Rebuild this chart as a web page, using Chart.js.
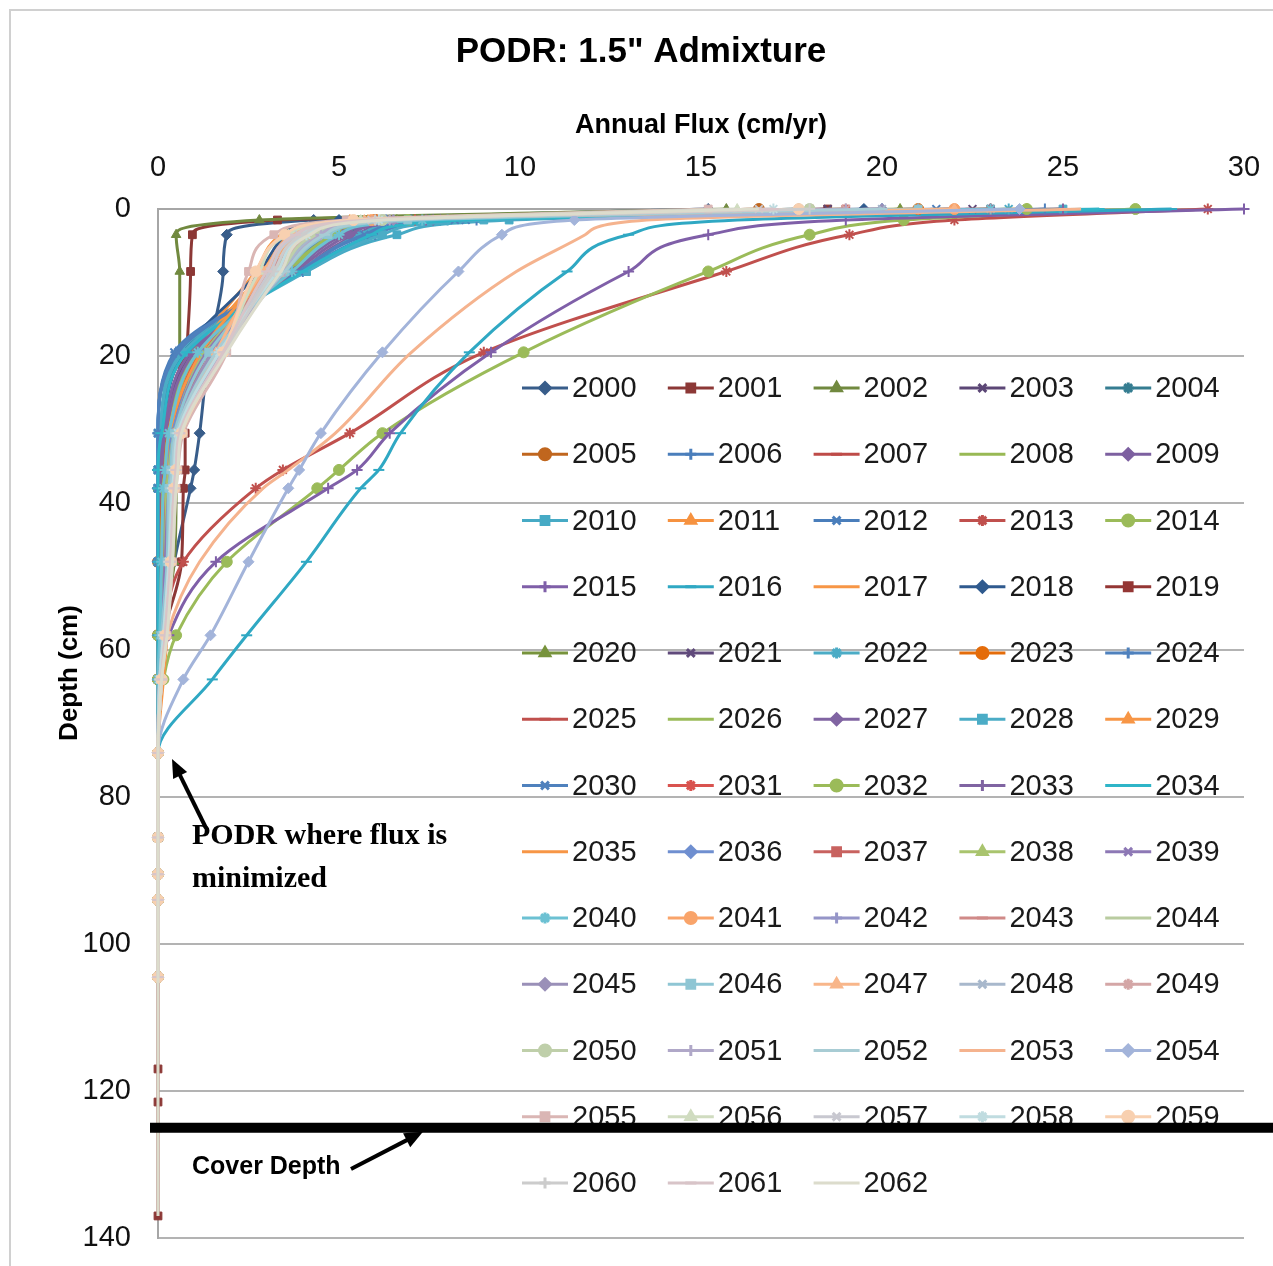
<!DOCTYPE html>
<html>
<head>
<meta charset="utf-8">
<script src="https://cdn.jsdelivr.net/npm/chart.js@4.4.0/dist/chart.umd.min.js"></script>
<style>
  html, body { margin: 0; padding: 0; background: #fff; }
  canvas { display: block; }
</style>
</head>
<body>
<canvas id="chart" width="1273" height="1266"></canvas>
<script>
// depth nodes (cm) shared by every year
const depths = [0, 1.5, 3.5, 8.5, 19.5, 30.5, 35.5, 38, 48, 58, 64, 74, 85.5, 90.5, 94, 104.5, 117, 121.5, 125, 137];

const years = [
  2000, 2001, 2002, 2003, 2004, 2005, 2006, 2007, 2008, 2009,
  2010, 2011, 2012, 2013, 2014, 2015, 2016, 2017, 2018, 2019,
  2020, 2021, 2022, 2023, 2024, 2025, 2026, 2027, 2028, 2029,
  2030, 2031, 2032, 2033, 2034, 2035, 2036, 2037, 2038, 2039,
  2040, 2041, 2042, 2043, 2044, 2045, 2046, 2047, 2048, 2049,
  2050, 2051, 2052, 2053, 2054, 2055, 2056, 2057, 2058, 2059,
  2060, 2061, 2062
];

// annual flux (cm/yr) at each depth node, one row per year
const flux = [
  [15.2, 4.3, 1.9, 1.8, 1.4, 1.15, 1.0, 0.9, 0.45, 0.15, 0.05, 0, 0, 0, 0, 0],
  [18.5, 3.3, 0.95, 0.9, 0.8, 0.75, 0.75, 0.7, 0.65, 0.15, 0.05, 0, 0, 0, 0, 0, 0, 0, 0, 0],
  [15.7, 2.8, 0.5, 0.6, 0.6, 0.55, 0.5, 0.5, 0.45, 0.1, 0.05, 0, 0, 0, 0, 0],
  [18.5, 6.5, 4.7, 3.4, 0.9, 0.15, 0.05, 0, 0, 0, 0, 0, 0, 0, 0, 0],
  [17.7, 7.5, 5.2, 3.8, 0.7, 0.05, 0, 0, 0, 0, 0, 0, 0, 0, 0, 0],
  [16.6, 6.0, 4.2, 3.2, 1.0, 0.2, 0.1, 0.05, 0, 0, 0, 0, 0, 0, 0, 0],
  [20.0, 7.0, 4.8, 3.6, 0.5, 0, 0, 0, 0, 0, 0, 0, 0, 0, 0, 0],
  [21.0, 6.8, 4.9, 3.7, 1.1, 0.45, 0.35, 0.3, 0.15, 0.05, 0, 0, 0, 0, 0, 0],
  [19.0, 6.2, 4.5, 3.5, 0.9, 0.3, 0.2, 0.15, 0.1, 0.05, 0, 0, 0, 0, 0, 0],
  [22.0, 7.8, 5.5, 3.9, 0.8, 0.1, 0.05, 0, 0, 0, 0, 0, 0, 0, 0, 0],
  [23.0, 9.7, 6.6, 4.1, 0.6, 0, 0, 0, 0, 0, 0, 0, 0, 0, 0, 0],
  [24.0, 5.3, 3.6, 2.9, 1.1, 0.3, 0.25, 0.2, 0.2, 0.15, 0.1, 0, 0, 0, 0, 0],
  [21.5, 8.5, 5.8, 4.0, 0.45, 0, 0, 0, 0, 0, 0, 0, 0, 0, 0, 0],
  [29.0, 22.0, 19.1, 15.7, 9.0, 5.3, 3.45, 2.7, 0.7, 0.15, 0.05, 0, 0, 0, 0, 0],
  [27.0, 20.6, 18.0, 15.2, 10.1, 6.2, 5.0, 4.4, 1.9, 0.5, 0.15, 0, 0, 0, 0, 0],
  [30.0, 19.0, 15.2, 13.0, 9.2, 6.4, 5.5, 4.7, 1.6, 0.3, 0.1, 0, 0, 0, 0, 0],
  [28.0, 16.0, 13.0, 11.3, 8.6, 6.7, 6.1, 5.6, 4.1, 2.45, 1.5, 0, 0, 0, 0, 0],
  [25.0, 5.6, 3.4, 2.7, 1.0, 0.35, 0.3, 0.3, 0.3, 0.25, 0.15, 0, 0, 0, 0, 0],
  [19.5, 5.0, 3.5, 2.8, 0.7, 0.1, 0, 0, 0, 0, 0, 0, 0, 0, 0, 0],
  [18.0, 6.4, 4.4, 3.3, 0.85, 0.2, 0.1, 0.05, 0, 0, 0, 0, 0, 0, 0, 0],
  [20.5, 6.6, 4.6, 3.4, 0.9, 0.15, 0.05, 0, 0, 0, 0, 0, 0, 0, 0, 0],
  [22.5, 7.2, 5.0, 3.6, 0.95, 0.2, 0.1, 0, 0, 0, 0, 0, 0, 0, 0, 0],
  [23.5, 8.0, 5.6, 3.9, 0.6, 0.05, 0, 0, 0, 0, 0, 0, 0, 0, 0, 0],
  [21.0, 6.0, 4.0, 3.1, 1.0, 0.25, 0.15, 0.1, 0.05, 0, 0, 0, 0, 0, 0, 0],
  [24.5, 8.8, 6.0, 4.0, 0.5, 0, 0, 0, 0, 0, 0, 0, 0, 0, 0, 0],
  [20.0, 6.5, 4.5, 3.4, 1.2, 0.4, 0.3, 0.25, 0.2, 0.1, 0.05, 0, 0, 0, 0, 0],
  [22.0, 7.0, 4.9, 3.6, 1.0, 0.3, 0.2, 0.15, 0.1, 0, 0, 0, 0, 0, 0, 0],
  [23.0, 7.6, 5.3, 3.8, 0.9, 0.15, 0.05, 0, 0, 0, 0, 0, 0, 0, 0, 0],
  [25.0, 9.0, 6.2, 4.1, 0.7, 0.05, 0, 0, 0, 0, 0, 0, 0, 0, 0, 0],
  [24.0, 5.8, 3.7, 2.9, 1.1, 0.3, 0.25, 0.2, 0.2, 0.15, 0.05, 0, 0, 0, 0, 0],
  [22.0, 8.2, 5.7, 3.9, 0.55, 0, 0, 0, 0, 0, 0, 0, 0, 0, 0, 0],
  [23.0, 7.1, 5.0, 3.7, 1.2, 0.4, 0.3, 0.25, 0.15, 0.05, 0, 0, 0, 0, 0, 0],
  [24.0, 6.9, 4.8, 3.5, 1.1, 0.3, 0.2, 0.15, 0.1, 0, 0, 0, 0, 0, 0, 0],
  [25.0, 7.4, 5.1, 3.7, 1.0, 0.2, 0.1, 0.05, 0, 0, 0, 0, 0, 0, 0, 0],
  [26.0, 8.4, 5.9, 4.0, 0.8, 0.1, 0, 0, 0, 0, 0, 0, 0, 0, 0, 0],
  [23.0, 6.1, 3.9, 3.0, 1.2, 0.35, 0.3, 0.25, 0.25, 0.2, 0.1, 0, 0, 0, 0, 0],
  [20.0, 6.3, 4.3, 3.3, 1.3, 0.4, 0.3, 0.25, 0.2, 0.1, 0.05, 0, 0, 0, 0, 0],
  [19.0, 6.0, 4.1, 3.2, 1.4, 0.5, 0.35, 0.3, 0.25, 0.1, 0.05, 0, 0, 0, 0, 0],
  [21.0, 6.4, 4.4, 3.4, 1.3, 0.45, 0.3, 0.25, 0.2, 0.1, 0.05, 0, 0, 0, 0, 0],
  [22.0, 6.7, 4.6, 3.5, 1.35, 0.45, 0.35, 0.3, 0.2, 0.1, 0.05, 0, 0, 0, 0, 0],
  [23.0, 7.3, 5.0, 3.7, 1.1, 0.3, 0.2, 0.15, 0.1, 0.05, 0, 0, 0, 0, 0, 0],
  [22.0, 5.9, 3.9, 3.0, 1.5, 0.5, 0.4, 0.35, 0.3, 0.2, 0.1, 0, 0, 0, 0, 0],
  [21.0, 6.2, 4.3, 3.3, 1.5, 0.55, 0.4, 0.35, 0.3, 0.15, 0.05, 0, 0, 0, 0, 0],
  [20.0, 5.8, 4.0, 3.1, 1.6, 0.6, 0.45, 0.4, 0.3, 0.15, 0.05, 0, 0, 0, 0, 0],
  [19.0, 6.1, 4.2, 3.2, 1.6, 0.55, 0.45, 0.4, 0.3, 0.15, 0.05, 0, 0, 0, 0, 0],
  [20.0, 6.5, 4.5, 3.4, 1.5, 0.5, 0.4, 0.35, 0.3, 0.15, 0.05, 0, 0, 0, 0, 0],
  [21.0, 6.9, 4.7, 3.5, 1.4, 0.45, 0.35, 0.3, 0.25, 0.1, 0.05, 0, 0, 0, 0, 0],
  [22.0, 5.7, 3.8, 2.9, 1.6, 0.6, 0.5, 0.45, 0.35, 0.2, 0.1, 0, 0, 0, 0, 0],
  [20.0, 6.3, 4.4, 3.4, 1.7, 0.6, 0.5, 0.4, 0.3, 0.15, 0.05, 0, 0, 0, 0, 0],
  [19.0, 6.0, 4.2, 3.3, 1.7, 0.65, 0.5, 0.45, 0.35, 0.2, 0.1, 0, 0, 0, 0, 0],
  [18.0, 6.2, 4.3, 3.4, 1.8, 0.6, 0.5, 0.45, 0.35, 0.2, 0.1, 0, 0, 0, 0, 0],
  [19.0, 6.4, 4.5, 3.5, 1.75, 0.55, 0.45, 0.4, 0.3, 0.15, 0.05, 0, 0, 0, 0, 0],
  [20.0, 6.7, 4.6, 3.5, 1.6, 0.5, 0.4, 0.35, 0.3, 0.15, 0.05, 0, 0, 0, 0, 0],
  [25.5, 13.5, 11.8, 9.9, 7.0, 4.9, 3.6, 2.9, 1.15, 0.25, 0.1, 0, 0, 0, 0, 0],
  [23.8, 11.5, 9.5, 8.3, 6.2, 4.5, 3.9, 3.6, 2.5, 1.45, 0.7, 0, 0, 0, 0, 0],
  [15.2, 5.2, 3.2, 2.5, 1.9, 0.7, 0.55, 0.5, 0.4, 0.25, 0.1, 0, 0, 0, 0, 0],
  [16.0, 5.6, 3.6, 2.8, 1.8, 0.65, 0.5, 0.45, 0.35, 0.2, 0.1, 0, 0, 0, 0, 0],
  [16.6, 5.9, 3.9, 3.1, 1.85, 0.6, 0.5, 0.45, 0.35, 0.2, 0.1, 0, 0, 0, 0, 0],
  [17.0, 6.1, 4.1, 3.3, 1.7, 0.55, 0.45, 0.4, 0.3, 0.15, 0.05, 0, 0, 0, 0, 0],
  [17.7, 5.4, 3.5, 2.7, 1.8, 0.65, 0.5, 0.45, 0.35, 0.2, 0.1, 0, 0, 0, 0, 0],
  [18.0, 6.0, 4.0, 3.2, 1.85, 0.6, 0.5, 0.45, 0.35, 0.2, 0.1, 0, 0, 0, 0, 0],
  [17.0, 5.8, 3.8, 3.0, 1.8, 0.6, 0.5, 0.45, 0.35, 0.2, 0.1, 0, 0, 0, 0, 0],
  [16.6, 6.2, 4.2, 3.4, 1.9, 0.65, 0.55, 0.5, 0.4, 0.25, 0.1, 0, 0, 0, 0, 0, 0, 0, 0, 0]
];

const coverDepth = 125;
const xTicks = [0, 5, 10, 15, 20, 25, 30];
const yTicks = [0, 20, 40, 60, 80, 100, 120, 140];

// Excel 2007 style colours, one row per block of six series
const palette = [
  ['#385D8A', '#8C3836', '#71893F', '#5C4776', '#357D91', '#C0661E'],
  ['#4A7EBB', '#BE4B48', '#98B954', '#7D60A0', '#46AAC5', '#F69240'],
  ['#4A7EBB', '#C0504D', '#9BBB59', '#7F5FA8', '#2FA8C3', '#F79646'],
  ['#2F5A8E', '#943634', '#77933C', '#604A7B', '#4BACC6', '#E46C0A'],
  ['#4F81BD', '#C0504D', '#9BBB59', '#8064A2', '#4BACC6', '#F79646'],
  ['#4F81BD', '#D9534F', '#9BBB59', '#8064A2', '#2FB5C8', '#F79646'],
  ['#6F8FD0', '#C8625F', '#A9C46E', '#8D78B5', '#6CC1D3', '#F9A46A'],
  ['#9595C8', '#D08A88', '#B9CCA0', '#9A90B8', '#8FC6D4', '#F8B68A'],
  ['#A8B8CC', '#D4A6A6', '#BFCFAA', '#B0A8C8', '#A8CCD4', '#F5B38E'],
  ['#A3B4DA', '#DAB6B4', '#D0DCC0', '#C8C8D0', '#C0DCE0', '#F8D0B0'],
  ['#CCCCCC', '#D8C4C8', '#DCDCCC']
];
const markers = ['rectRot', 'rect', 'triangle', 'crossRot', 'star', 'circle', 'cross', 'line', 'none'];
const strokeMarkers = ['crossRot', 'star', 'cross', 'line'];

const FONT = '"Liberation Sans", Arial, sans-serif';

const datasets = years.map((yr, i) => {
  const color = palette[Math.floor(i / 6)][i % 6];
  const style = markers[i % 9];
  return {
    label: String(yr),
    data: flux[i].map((f, k) => ({ x: f, y: depths[k] })),
    borderColor: color,
    backgroundColor: color,
    pointBackgroundColor: color,
    pointBorderColor: color,
    borderWidth: 3,
    pointStyle: style === 'none' ? 'circle' : style,
    pointRadius: style === 'none' ? 0 : 5.5,
    pointBorderWidth: strokeMarkers.includes(style) ? 2 : 1,
    cubicInterpolationMode: 'monotone',
    tension: 0.4,
    clip: 10,
    order: years.length - i
  };
});

function drawArrow(ctx, x1, y1, x2, y2, width, head) {
  const a = Math.atan2(y2 - y1, x2 - x1);
  ctx.save();
  ctx.strokeStyle = '#000';
  ctx.fillStyle = '#000';
  ctx.lineWidth = width;
  ctx.beginPath();
  ctx.moveTo(x1, y1);
  ctx.lineTo(x2 - Math.cos(a) * head * 0.8, y2 - Math.sin(a) * head * 0.8);
  ctx.stroke();
  ctx.beginPath();
  ctx.moveTo(x2, y2);
  ctx.lineTo(x2 - Math.cos(a - 0.4) * head, y2 - Math.sin(a - 0.4) * head);
  ctx.lineTo(x2 - Math.cos(a + 0.4) * head, y2 - Math.sin(a + 0.4) * head);
  ctx.closePath();
  ctx.fill();
  ctx.restore();
}

const extras = {
  id: 'extras',
  afterDatasetsDraw(chart) {
    const { ctx, chartArea, scales } = chart;
    // legend inside the plot, five columns
    ctx.save();
    ctx.font = '29px ' + FONT;
    ctx.textBaseline = 'middle';
    ctx.textAlign = 'left';
    chart.data.datasets.forEach((ds, i) => {
      const col = i % 5, row = Math.floor(i / 5);
      const x0 = chartArea.left + 364 + col * 145.8;
      const y0 = chartArea.top + 179 + row * 66.25;
      ctx.strokeStyle = ds.borderColor;
      ctx.fillStyle = ds.borderColor;
      ctx.lineWidth = 3;
      ctx.beginPath();
      ctx.moveTo(x0, y0);
      ctx.lineTo(x0 + 46, y0);
      ctx.stroke();
      if (ds.pointRadius > 0) {
        Chart.helpers.drawPoint(ctx, {
          pointStyle: ds.pointStyle, radius: 5.5, rotation: 0, borderWidth: ds.pointBorderWidth
        }, x0 + 23, y0);
      }
      ctx.fillStyle = '#1a1a1a';
      ctx.fillText(ds.label, x0 + 50, y0 + 1);
    });
    ctx.restore();

    // cover depth line
    const yc = scales.y.getPixelForValue(coverDepth);
    ctx.save();
    ctx.fillStyle = '#000';
    ctx.fillRect(chartArea.left - 8, yc - 5, chart.width - chartArea.left + 8, 10);
    ctx.restore();
  },
  afterDraw(chart) {
    const { ctx, scales } = chart;
    ctx.save();
    ctx.fillStyle = '#000';
    ctx.textAlign = 'center';
    ctx.textBaseline = 'middle';
    ctx.font = 'bold 35px ' + FONT;
    ctx.fillText('PODR: 1.5" Admixture', 641, 52);
    ctx.font = 'bold 27px ' + FONT;
    ctx.fillText('Annual Flux (cm/yr)', 701, 126);
    ctx.save();
    ctx.translate(70, 673);
    ctx.rotate(-Math.PI / 2);
    ctx.font = 'bold 26px ' + FONT;
    ctx.fillText('Depth (cm)', 0, 0);
    ctx.restore();

    ctx.textAlign = 'left';
    ctx.font = 'bold 30px "Liberation Serif", "Times New Roman", serif';
    ctx.fillText('PODR where flux is', 192, 836);
    ctx.fillText('minimized', 192, 879);
    ctx.font = 'bold 25px ' + FONT;
    ctx.fillText('Cover Depth', 192, 1167);
    ctx.restore();

    const yc = scales.y.getPixelForValue(coverDepth);
    drawArrow(ctx, 206, 828, 172, 759, 4, 20);
    drawArrow(ctx, 351, 1169, 423, yc + 4, 4, 20);

    // outer chart frame
    ctx.save();
    ctx.strokeStyle = '#d0d0d0';
    ctx.lineWidth = 2;
    ctx.strokeRect(10, 10, 1300, 1300);
    ctx.restore();
  }
};

new Chart(document.getElementById('chart'), {
  type: 'line',
  data: { datasets },
  plugins: [extras],
  options: {
    responsive: false,
    animation: false,
    indexAxis: 'y',
    layout: { padding: { left: 0, right: 29, top: 0, bottom: 28 } },
    plugins: { legend: { display: false }, tooltip: { enabled: false }, title: { display: false } },
    scales: {
      x: {
        type: 'linear',
        position: 'top',
        min: 0, max: 30,
        afterBuildTicks: s => { s.ticks = xTicks.map(v => ({ value: v })); },
        afterFit: s => { s.height = 209; s.paddingLeft = 0; s.paddingRight = 0; },
        grid: { display: false, drawTicks: false },
        border: { display: true, color: '#a6a6a6', width: 2 },
        ticks: { padding: 24, color: '#111', font: { family: FONT, size: 29 } }
      },
      y: {
        type: 'linear',
        reverse: true,
        min: 0, max: 140,
        afterBuildTicks: s => { s.ticks = yTicks.map(v => ({ value: v })); },
        afterFit: s => { s.width = 158; s.paddingTop = 0; s.paddingBottom = 0; },
        grid: { color: '#b3b3b3', lineWidth: 2, drawTicks: false },
        border: { display: true, color: '#a6a6a6', width: 2 },
        ticks: { padding: 27, color: '#111', font: { family: FONT, size: 29 } }
      }
    }
  }
});
</script>
</body>
</html>
